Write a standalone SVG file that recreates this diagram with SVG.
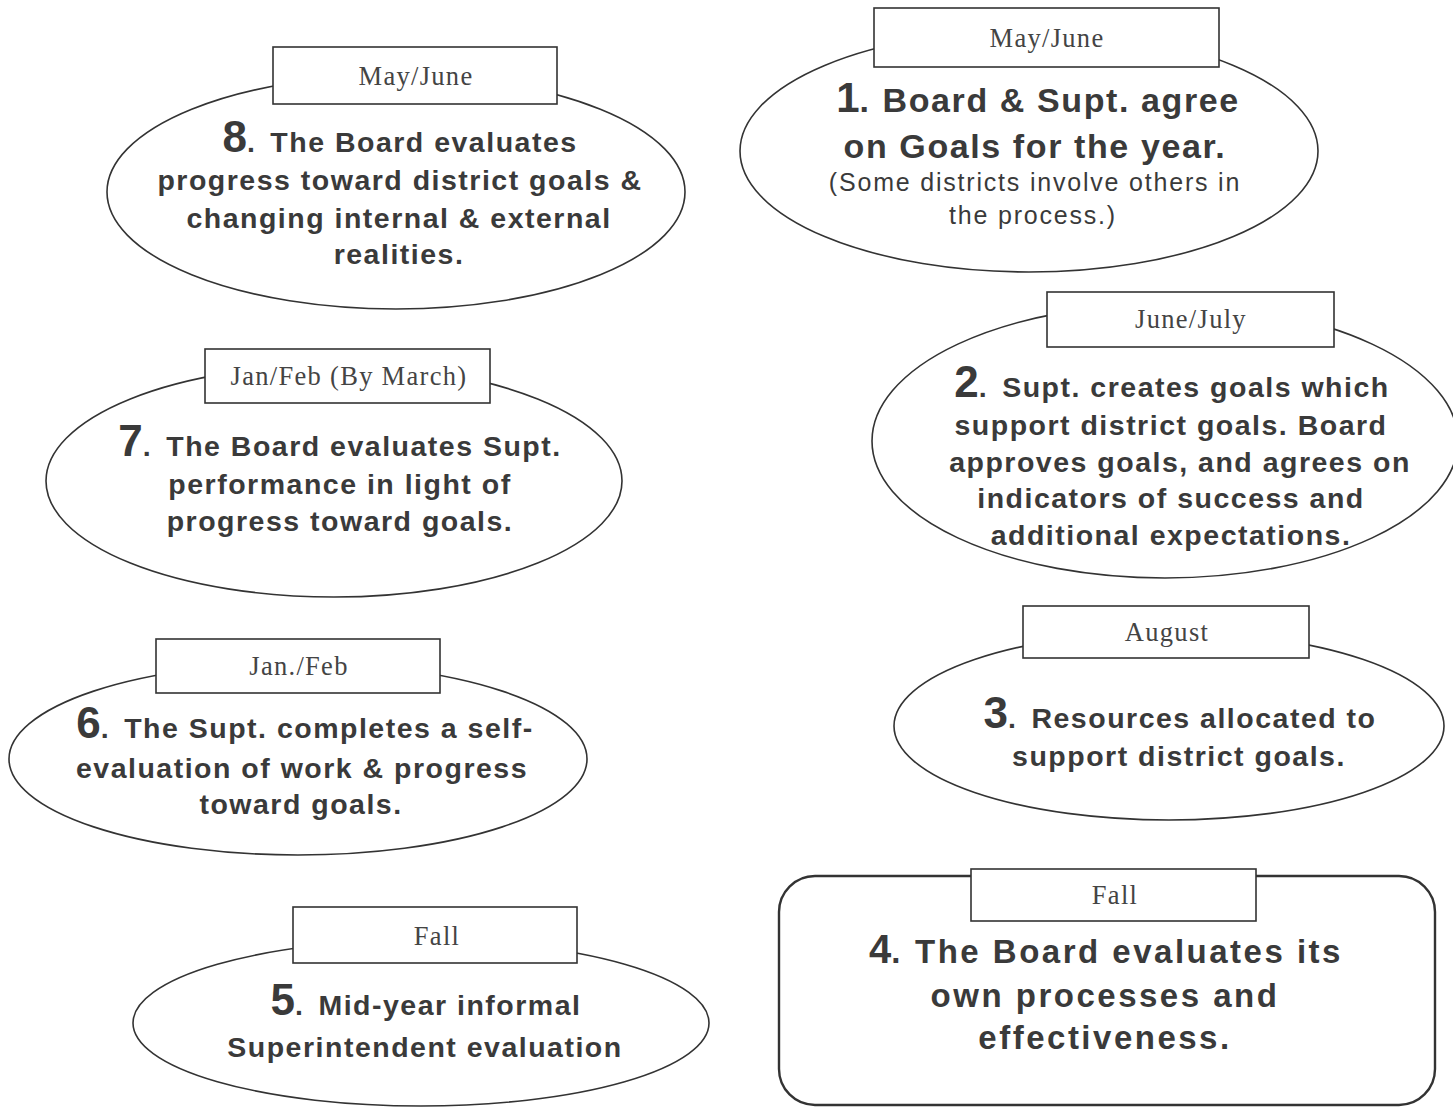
<svg xmlns="http://www.w3.org/2000/svg" width="1453" height="1110" viewBox="0 0 1453 1110">
  <style>
    .shape { fill: #fff; stroke: #333; stroke-width: 1.6; }
    .tag { fill: #fff; stroke: #333; stroke-width: 1.6; }
    .tagtxt { font-family: "Liberation Serif", serif; font-size: 26.5px; fill: #444; text-anchor: middle; letter-spacing: 1.3px; }
    .body { font-family: "Liberation Sans", Arial, sans-serif; font-size: 28.5px; font-weight: bold; fill: #3a3a3a; text-anchor: middle; letter-spacing: 1.5px; }
    .num { font-size: 44px; letter-spacing: 0; }
    .note { font-family: "Liberation Sans", Arial, sans-serif; font-size: 25px; fill: #3a3a3a; text-anchor: middle; letter-spacing: 1.8px; }
    .big { font-size: 34px; letter-spacing: 1.6px; }
    .big4 { font-size: 33px; letter-spacing: 2.5px; }
  </style>
  <rect width="1453" height="1110" fill="#fff"/>

  <!-- Step 8 -->
  <g id="step8">
    <ellipse class="shape" cx="396" cy="192" rx="289" ry="117"/>
    <rect class="tag" x="273" y="47" width="284" height="57"/>
    <text class="tagtxt" x="416" y="85">May/June</text>
    <text class="body" x="400" y="152"><tspan class="num">8</tspan>.<tspan dx="14">The Board evaluates</tspan></text>
    <text class="body" x="400" y="190">progress toward district goals &amp;</text>
    <text class="body" x="399" y="228">changing internal &amp; external</text>
    <text class="body" x="399" y="264">realities.</text>
  </g>

  <!-- Step 1 -->
  <g id="step1">
    <ellipse class="shape" cx="1029" cy="151" rx="289" ry="121"/>
    <rect class="tag" x="874" y="8" width="345" height="59"/>
    <text class="tagtxt" x="1047" y="47">May/June</text>
    <text class="body big" x="1038" y="112"><tspan style="font-size:42px;letter-spacing:0">1</tspan>.<tspan dx="12">Board &amp; Supt. agree</tspan></text>
    <text class="body big" x="1035" y="158">on Goals for the year.</text>
    <text class="note" x="1035" y="191">(Some districts involve others in</text>
    <text class="note" x="1033" y="224">the process.)</text>
  </g>

  <!-- Step 2 -->
  <g id="step2">
    <ellipse class="shape" cx="1165" cy="441" rx="293" ry="137"/>
    <rect class="tag" x="1047" y="292" width="287" height="55"/>
    <text class="tagtxt" x="1191" y="328">June/July</text>
    <text class="body" x="1172" y="397"><tspan class="num">2</tspan>.<tspan dx="14">Supt. creates goals which</tspan></text>
    <text class="body" x="1171" y="435">support district goals. Board</text>
    <text class="body" x="1180" y="472">approves goals, and agrees on</text>
    <text class="body" x="1171" y="508">indicators of success and</text>
    <text class="body" x="1171" y="545">additional expectations.</text>
  </g>

  <!-- Step 3 -->
  <g id="step3">
    <ellipse class="shape" cx="1169" cy="726" rx="275" ry="94"/>
    <rect class="tag" x="1023" y="606" width="286" height="52"/>
    <text class="tagtxt" x="1167" y="641">August</text>
    <text class="body" x="1180" y="728"><tspan class="num">3</tspan>.<tspan dx="14">Resources allocated to</tspan></text>
    <text class="body" x="1179" y="766">support district goals.</text>
  </g>

  <!-- Step 4 -->
  <g id="step4">
    <rect class="shape" x="779" y="876" width="656" height="229" rx="36" ry="36" style="stroke-width:2.4"/>
    <rect class="tag" x="971" y="869" width="285" height="52"/>
    <text class="tagtxt" x="1115" y="904">Fall</text>
    <text class="body big4" x="1106" y="963"><tspan style="font-size:40px;letter-spacing:0">4</tspan>.<tspan dx="12">The Board evaluates its</tspan></text>
    <text class="body big4" x="1105" y="1007">own processes and</text>
    <text class="body big4" x="1105" y="1049">effectiveness.</text>
  </g>

  <!-- Step 5 -->
  <g id="step5">
    <ellipse class="shape" cx="421" cy="1023" rx="288" ry="83"/>
    <rect class="tag" x="293" y="907" width="284" height="56"/>
    <text class="tagtxt" x="437" y="945">Fall</text>
    <text class="body" x="426" y="1015"><tspan class="num">5</tspan>.<tspan dx="14">Mid-year informal</tspan></text>
    <text class="body" x="425" y="1057">Superintendent evaluation</text>
  </g>

  <!-- Step 6 -->
  <g id="step6">
    <ellipse class="shape" cx="298" cy="759" rx="289" ry="96"/>
    <rect class="tag" x="156" y="639" width="284" height="54"/>
    <text class="tagtxt" x="299" y="675">Jan./Feb</text>
    <text class="body" x="305" y="738"><tspan class="num">6</tspan>.<tspan dx="14">The Supt. completes a self-</tspan></text>
    <text class="body" x="302" y="778">evaluation of work &amp; progress</text>
    <text class="body" x="301" y="814">toward goals.</text>
  </g>

  <!-- Step 7 -->
  <g id="step7">
    <ellipse class="shape" cx="334" cy="481" rx="288" ry="116"/>
    <rect class="tag" x="205" y="349" width="285" height="54"/>
    <text class="tagtxt" x="349" y="385">Jan/Feb (By March)</text>
    <text class="body" x="340" y="456"><tspan class="num">7</tspan>.<tspan dx="14">The Board evaluates Supt.</tspan></text>
    <text class="body" x="340" y="494">performance in light of</text>
    <text class="body" x="340" y="531">progress toward goals.</text>
  </g>

  <!-- no connectors in this figure -->
  <g id="connectors"/>
</svg>
